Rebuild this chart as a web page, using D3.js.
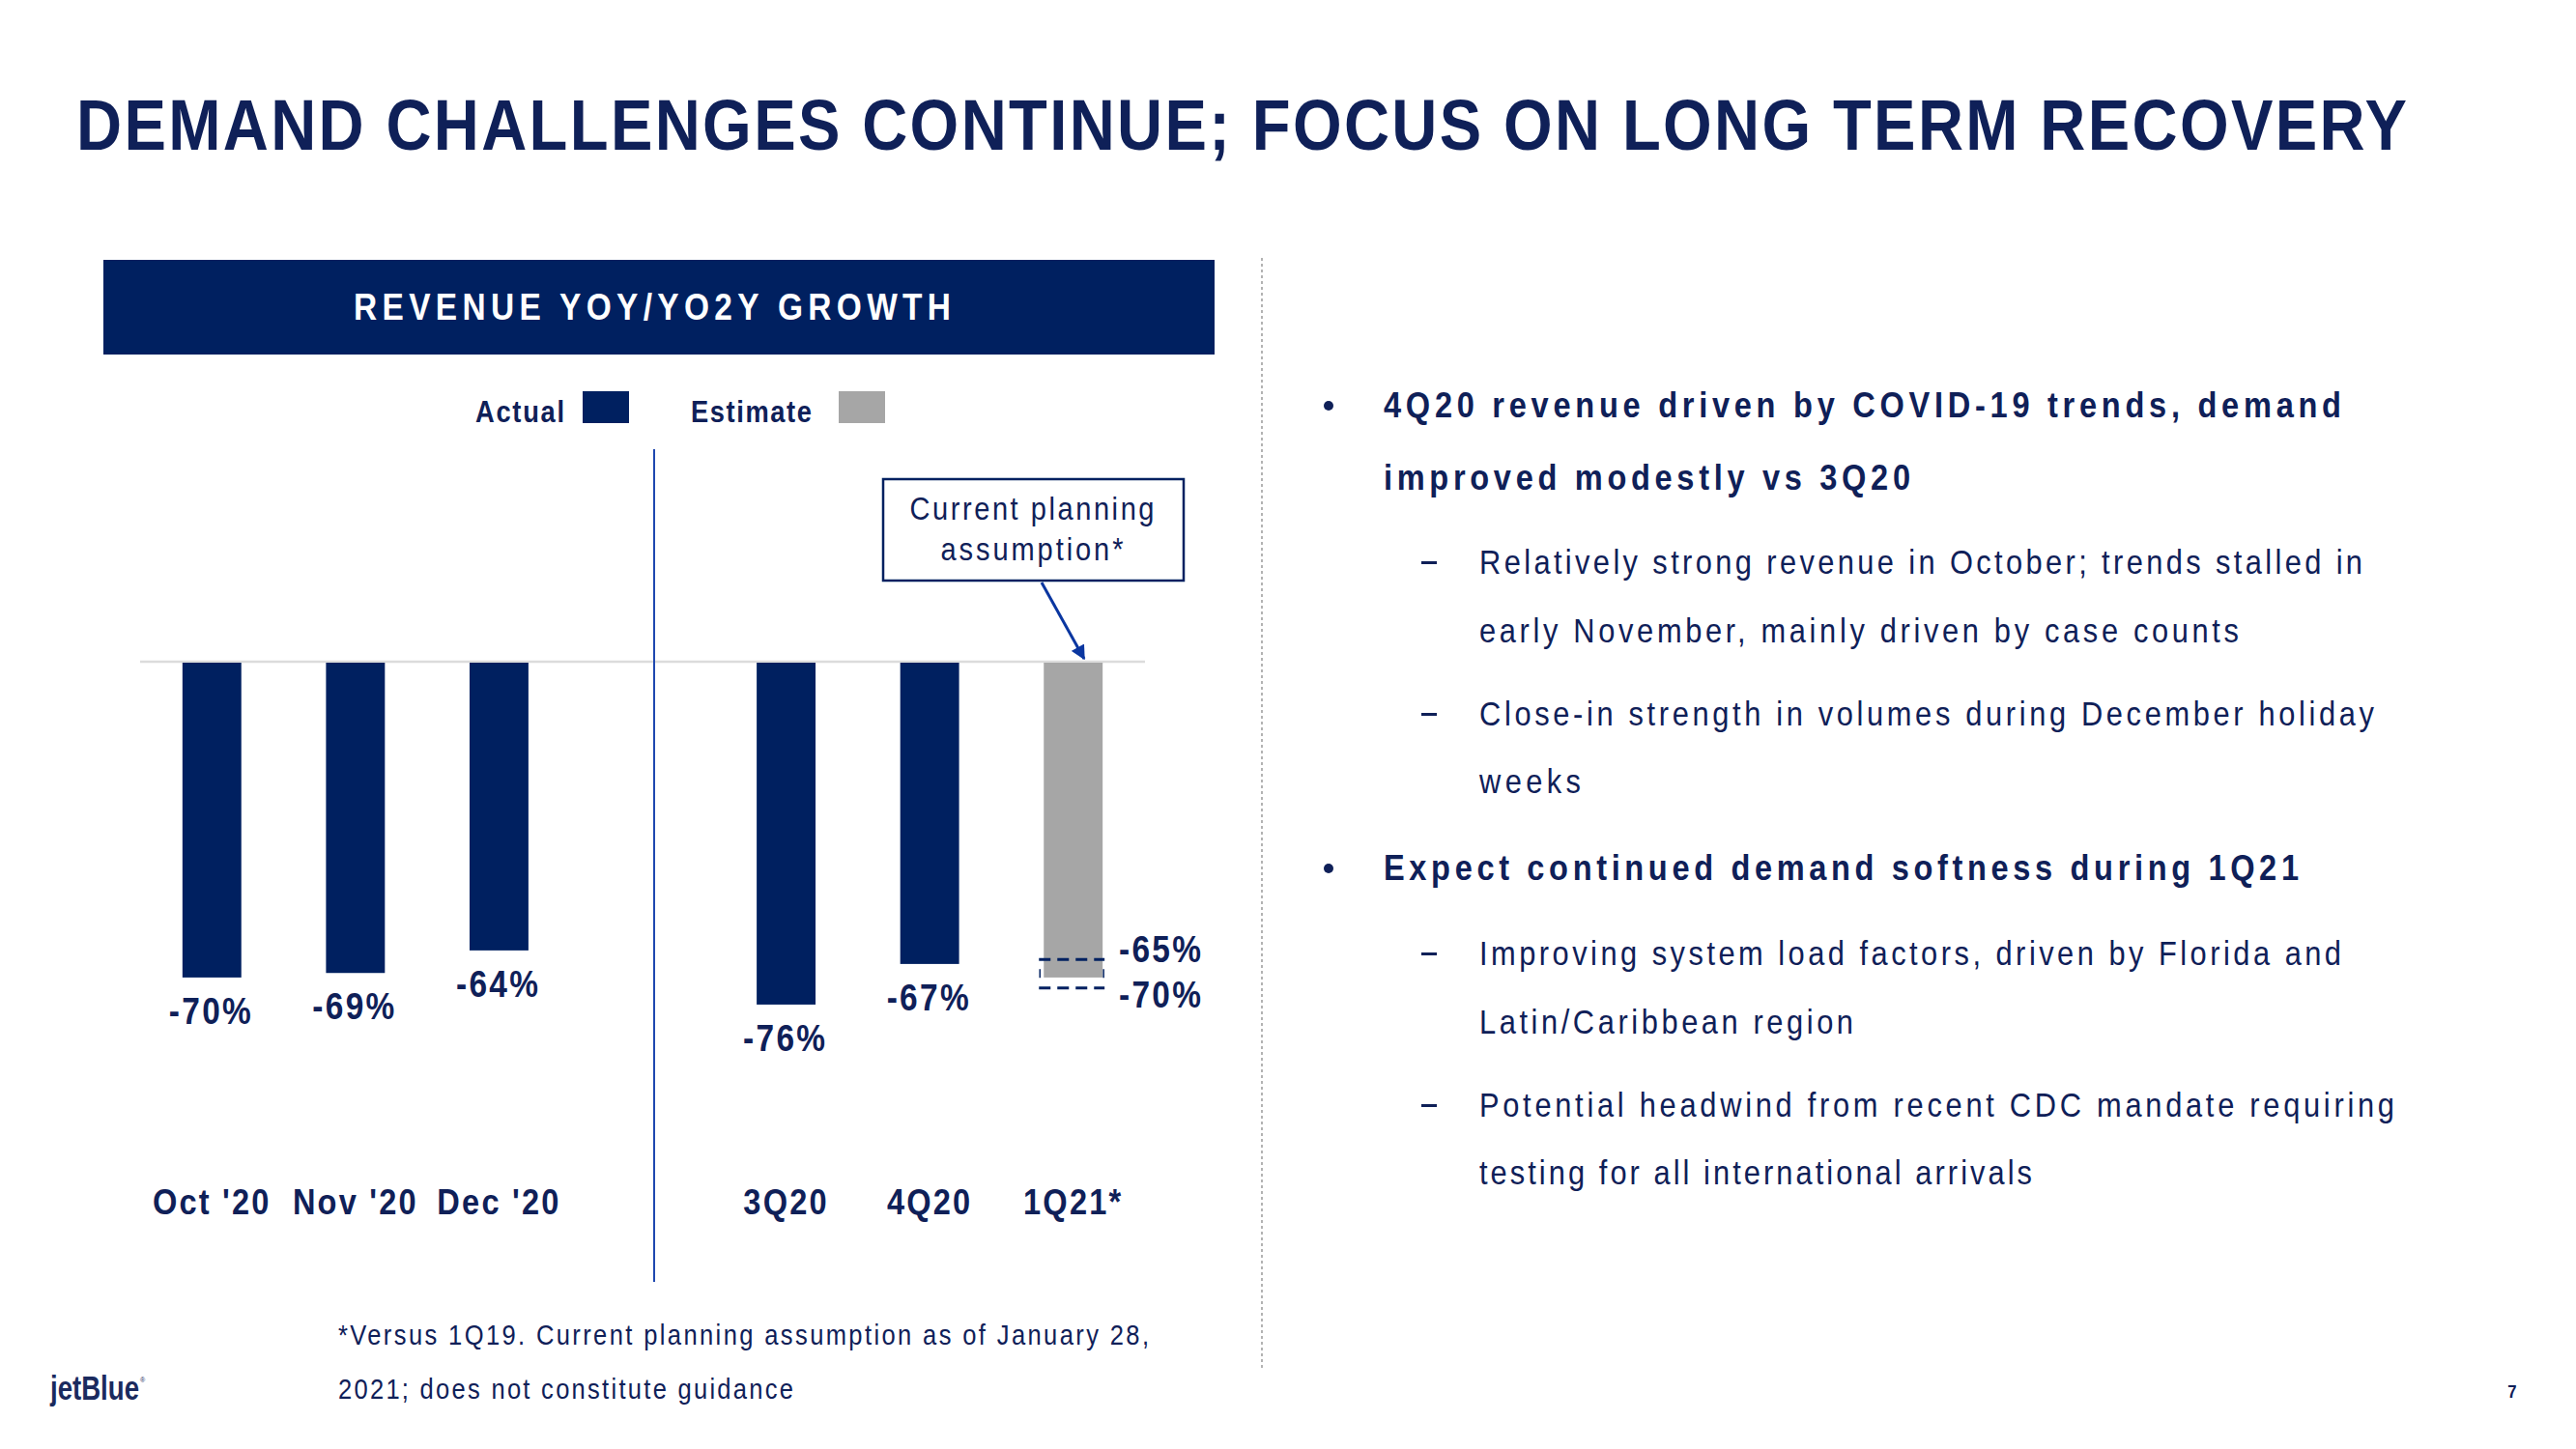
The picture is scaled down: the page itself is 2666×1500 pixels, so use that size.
<!DOCTYPE html>
<html>
<head>
<meta charset="utf-8">
<script src="https://cdn.jsdelivr.net/npm/d3@7"></script>
<style>
  html, body { margin: 0; padding: 0; background: #ffffff; }
  svg { display: block; }
  text { font-family: "Liberation Sans", Arial, sans-serif; }
</style>
</head>
<body>
<svg id="chart" width="2666" height="1500"></svg>
<script>
// ---------------- DATA ----------------
const categories = ["Oct '20", "Nov '20", "Dec '20", "", "3Q20", "4Q20", "1Q21*"];
const growth     = [-70, -69, -64, null, -76, -67, -70];
const valueLabels = ["-70%", "-69%", "-64%", "", "-76%", "-67%", ""];
const barSeries  = ["Actual", "Actual", "Actual", null, "Actual", "Actual", "Estimate"];
const legendItems = ["Actual", "Estimate"];
const estimateRange = [-66, -72.3];          // dashed range markers on the 1Q21 bar
const estimateRangeLabels = ["-65%", "-70%"];

const titleText = "DEMAND CHALLENGES CONTINUE; FOCUS ON LONG TERM RECOVERY";
const panelTitle = "REVENUE YOY/YO2Y GROWTH";
const calloutLines = ["Current planning", "assumption*"];
const footnoteLines = ["*Versus 1Q19. Current planning assumption as of January 28,",
                       "2021; does not constitute guidance"];
const bulletLines = [
  {lvl: 0, first: true,  text: "4Q20 revenue driven by COVID-19 trends, demand"},
  {lvl: 0, first: false, text: "improved modestly vs 3Q20"},
  {lvl: 1, first: true,  text: "Relatively strong revenue in October; trends stalled in"},
  {lvl: 1, first: false, text: "early November, mainly driven by case counts"},
  {lvl: 1, first: true,  text: "Close-in strength in volumes during December holiday"},
  {lvl: 1, first: false, text: "weeks"},
  {lvl: 0, first: true,  text: "Expect continued demand softness during 1Q21"},
  {lvl: 1, first: true,  text: "Improving system load factors, driven by Florida and"},
  {lvl: 1, first: false, text: "Latin/Caribbean region"},
  {lvl: 1, first: true,  text: "Potential headwind from recent CDC mandate requiring"},
  {lvl: 1, first: false, text: "testing for all international arrivals"}
];

// ---------------- STYLE / LAYOUT ----------------
const NAVY = "#002060";
const TEXT = "#0f2058";
const GRAY = "#a6a6a6";
const BLUE = "#1f48b0";
const SX = 0.88;   // horizontal condensation to mimic a narrow typeface
const colorOf = s => s === "Estimate" ? GRAY : NAVY;

const svg = d3.select("#chart");
svg.append("rect").attr("width", 2666).attr("height", 1500).attr("fill", "#fff");

// narrow text helper
function ntext(parent, o) {
  const g = parent.append("g").attr("transform", `translate(${o.x},${o.y}) scale(${SX},1)`);
  const t = g.append("text").attr("x", 0).attr("y", 0)
    .attr("font-size", o.size).attr("font-weight", o.weight || "normal")
    .attr("fill", o.fill || TEXT).attr("text-anchor", o.anchor || "start")
    .text(o.text);
  if (o.width) t.attr("textLength", o.width / SX).attr("lengthAdjust", "spacing");
  if (o.ls !== undefined) t.attr("letter-spacing", o.ls);
  return t;
}

// Title
ntext(svg, {x: 79, y: 155, size: 74, weight: "bold", width: 2412, text: titleText});

// Panel header band
svg.append("rect").attr("x", 107).attr("y", 269).attr("width", 1150).attr("height", 98).attr("fill", NAVY);
ntext(svg, {x: 675, y: 331, size: 38, weight: "bold", fill: "#fff", anchor: "middle", width: 618, text: panelTitle});

// Legend
const legendX = {Actual: 492, Estimate: 715};
const legendW = {Actual: 92, Estimate: 125};
const legendSq = {Actual: 603, Estimate: 868};
const lg = svg.append("g");
legendItems.forEach(k => {
  ntext(lg, {x: legendX[k], y: 437, size: 31, weight: "bold", width: legendW[k], text: k});
  lg.append("rect").attr("x", legendSq[k]).attr("y", 405).attr("width", 48).attr("height", 33)
    .attr("fill", colorOf(k));
});

// Scales
const x = d3.scaleBand().domain(categories).range([145, 1185]).paddingInner(0.59).paddingOuter(0.295);
const y = d3.scaleLinear().domain([0, -100]).range([685, 1152]);

// Zero baseline
svg.append("line").attr("x1", 145).attr("x2", 1185).attr("y1", y(0)).attr("y2", y(0))
  .attr("stroke", "#dcdcdc").attr("stroke-width", 2.5);

// Bars
const bars = categories.map((c, i) => ({c, v: growth[i], s: barSeries[i], l: valueLabels[i]}))
  .filter(d => d.v !== null);
svg.append("g").selectAll("rect").data(bars).join("rect")
  .attr("x", d => x(d.c)).attr("width", x.bandwidth())
  .attr("y", y(0) + 1).attr("height", d => y(d.v) - y(0) - 1)
  .attr("fill", d => colorOf(d.s));

// Value labels
const vl = svg.append("g");
bars.filter(d => d.l).forEach(d => {
  ntext(vl, {x: x(d.c) + x.bandwidth() / 2 - 2, y: y(d.v) + 48, size: 38, weight: "bold",
             anchor: "middle", width: 85, text: d.l});
});

// Estimate range markers (dashed)
const estCat = categories[6];
const ex0 = x(estCat) - 5, ex1 = x(estCat) + x.bandwidth() + 2;
const rg = svg.append("g");
estimateRange.forEach(v => {
  rg.append("line").attr("x1", ex0).attr("x2", ex1).attr("y1", y(v)).attr("y2", y(v))
    .attr("stroke", NAVY).attr("stroke-width", 3).attr("stroke-dasharray", "12,7");
});
[ex0 + 1, ex1 - 1].forEach(xx => {
  rg.append("line").attr("x1", xx).attr("x2", xx).attr("y1", y(estimateRange[0]) + 10).attr("y2", y(estimateRange[0]) + 19)
    .attr("stroke", NAVY).attr("stroke-width", 1.5);
});
const labOff = [3, 20];
estimateRangeLabels.forEach((t, i) => {
  ntext(rg, {x: 1158, y: y(estimateRange[i]) + labOff[i], size: 38, weight: "bold", width: 85, text: t});
});

// Category labels
const cl = svg.append("g");
categories.filter(c => c).forEach(c => {
  ntext(cl, {x: x(c) + x.bandwidth() / 2, y: 1257, size: 37, weight: "bold", anchor: "middle", ls: 2.5, text: c});
});

// Divider between monthly and quarterly
svg.append("line").attr("x1", 677).attr("x2", 677).attr("y1", 465).attr("y2", 1327)
  .attr("stroke", BLUE).attr("stroke-width", 2);

// Callout box
svg.append("rect").attr("x", 914).attr("y", 496).attr("width", 311).attr("height", 105)
  .attr("fill", "#fff").attr("stroke", NAVY).attr("stroke-width", 2.5);
const calW = [253, 189];
calloutLines.forEach((t, i) => {
  ntext(svg, {x: 1068, y: 538 + i * 42, size: 33, anchor: "middle", width: calW[i], text: t});
});
// Arrow
svg.append("defs").append("marker").attr("id", "ah").attr("viewBox", "0 0 10 10")
  .attr("refX", 9).attr("refY", 5).attr("markerWidth", 5).attr("markerHeight", 5)
  .attr("orient", "auto").attr("markerUnits", "strokeWidth")
  .append("path").attr("d", "M0,0 L10,5 L0,10 z").attr("fill", "#0a36a0");
svg.append("line").attr("x1", 1078).attr("y1", 603).attr("x2", 1122).attr("y2", 682)
  .attr("stroke", "#0a36a0").attr("stroke-width", 3).attr("marker-end", "url(#ah)");

// Footnote
const fnW = [839, 471];
footnoteLines.forEach((t, i) => {
  ntext(svg, {x: 350, y: 1392 + i * 56, size: 29, width: fnW[i], text: t});
});

// Vertical dashed separator
svg.append("line").attr("x1", 1306).attr("x2", 1306).attr("y1", 267).attr("y2", 1419)
  .attr("stroke", "#9a9a9a").attr("stroke-width", 1.5).attr("stroke-dasharray", "3,3");

// Right-hand bullets
const lineY = [432, 507, 594, 665, 751, 821, 911, 999, 1070, 1156, 1226];
const lineW = [991, 545, 914, 786, 926, 105, 947, 892, 387, 947, 572];
const bg = svg.append("g");
bulletLines.forEach((d, i) => {
  const tx = d.lvl === 0 ? 1432 : 1531;
  ntext(bg, {x: tx, y: lineY[i], size: d.lvl === 0 ? 37 : 35, weight: d.lvl === 0 ? "bold" : "normal",
             width: lineW[i], text: d.text});
  if (d.first) {
    if (d.lvl === 0) {
      bg.append("circle").attr("cx", 1375).attr("cy", lineY[i] - 12).attr("r", 5).attr("fill", TEXT);
    } else {
      bg.append("rect").attr("x", 1471).attr("y", lineY[i] - 13).attr("width", 16).attr("height", 3).attr("fill", TEXT);
    }
  }
});

// Logo and page number
const logo = svg.append("text").attr("x", 52).attr("y", 1449)
  .attr("font-family", "Lato, 'Liberation Sans', sans-serif")
  .attr("font-size", 35).attr("font-weight", "bold").attr("fill", "#1a2a5e");
logo.append("tspan").attr("textLength", 92).attr("lengthAdjust", "spacingAndGlyphs").text("jetBlue");
logo.append("tspan").attr("font-size", 7).attr("font-weight", "normal").attr("dx", 1).attr("dy", -18).text("®");

ntext(svg, {x: 2600, y: 1447, size: 19, weight: "bold", anchor: "middle", text: "7"});
</script>
</body>
</html>
